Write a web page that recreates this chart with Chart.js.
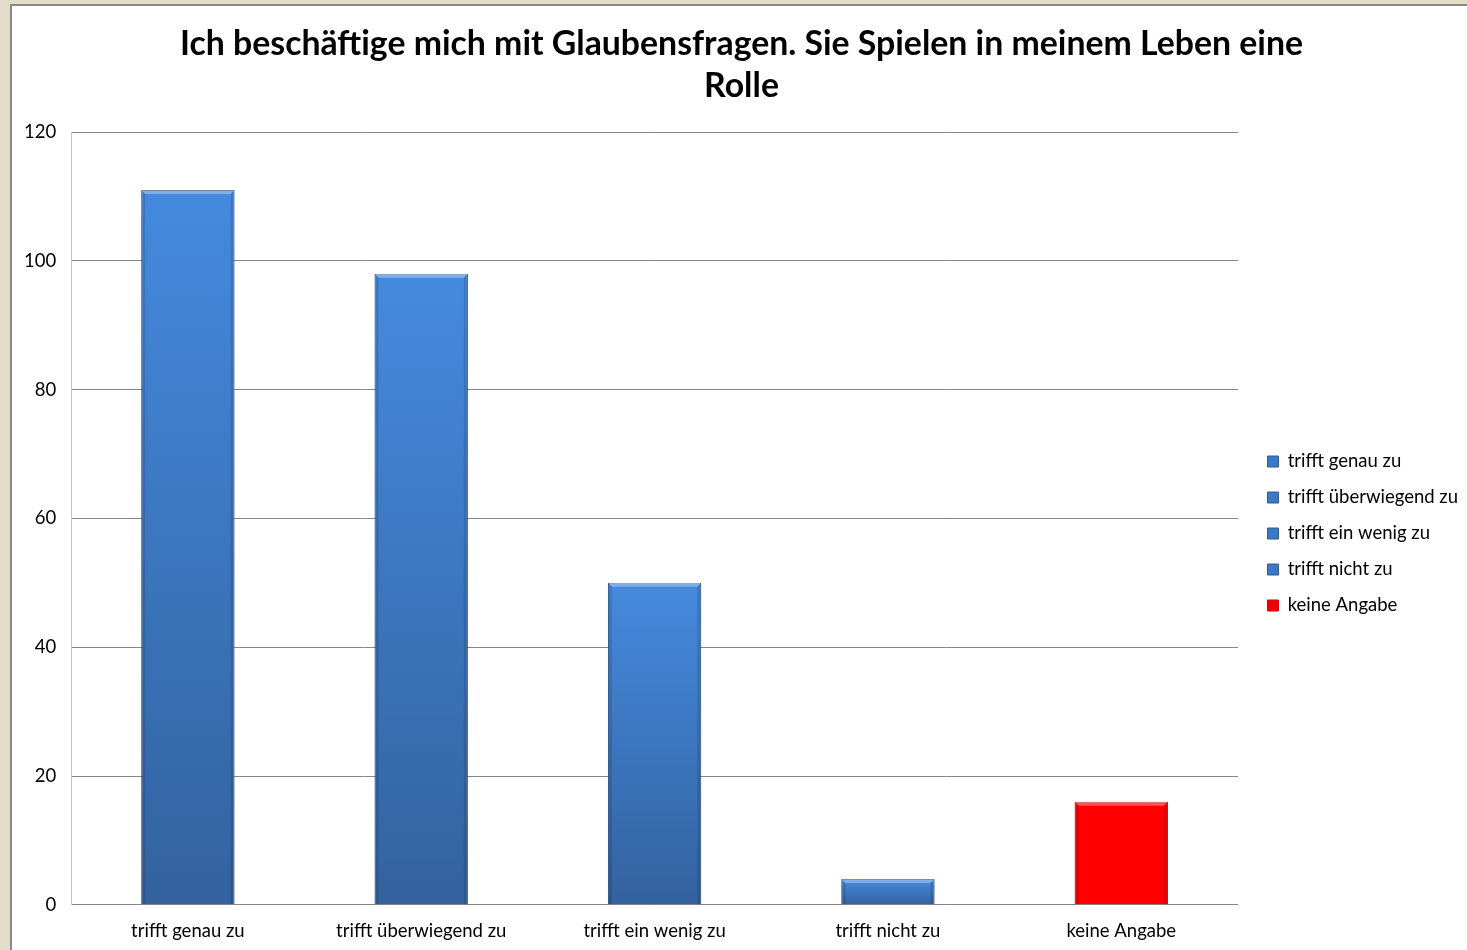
<!DOCTYPE html>
<html>
<head>
<meta charset="utf-8">
<script src="https://cdn.jsdelivr.net/npm/chart.js@4.4.1/dist/chart.umd.min.js"></script>
<style>
  html, body { margin: 0; padding: 0; width: 1467px; height: 950px; overflow: hidden; background: #e2dcc8; }
  #panel { position: absolute; left: 10px; top: 4px; width: 1480px; height: 970px; background: #fff;
           border-left: 2px solid #8a8a8a; border-top: 2px solid #8a8a8a; }
  #wrap { position: absolute; left: -3px; top: 0; width: 1458px; height: 943px; }
</style>
</head>
<body>
<div id="panel"><div id="wrap"><canvas id="chart"></canvas></div></div>
<script>
const titleLines = ['Ich beschäftige mich mit Glaubensfragen. Sie Spielen in meinem Leben eine', 'Rolle'];
const categories = ['trifft genau zu', 'trifft überwiegend zu', 'trifft ein wenig zu', 'trifft nicht zu', 'keine Angabe'];
const counts = [111, 98, 50, 4, 16];
const barKinds = ['blue', 'blue', 'blue', 'blue', 'red'];
const yMin = 0, yMax = 120, yStep = 20;

const FONT = 'Lato, "Open Sans", sans-serif';

// colours per bar kind: top of gradient, bottom of gradient, edge
const palette = {
  blue: { top: '#458ade', bottom: '#33629f', edge: '#2f5a92', legend: '#3d78c4' },
  red:  { top: '#ff0000', bottom: '#ff0000', edge: '#d40000', legend: '#f00000' }
};

function barFill(ctx) {
  const chart = ctx.chart;
  const p = palette[barKinds[ctx.dataIndex]];
  const y = chart.scales.y;
  if (!chart.chartArea || !y) return p.top;
  const top = y.getPixelForValue(ctx.raw);
  const bottom = y.getPixelForValue(0);
  const g = chart.ctx.createLinearGradient(0, top, 0, bottom);
  g.addColorStop(0, p.top);
  g.addColorStop(1, p.bottom);
  return g;
}

// light top bevel and darker sides, like the office 3D bar style
const bevelPlugin = {
  id: 'bevel',
  afterDatasetsDraw(chart) {
    const c = chart.ctx;
    chart.getDatasetMeta(0).data.forEach((bar, i) => {
      const { x, y, base, width } = bar.getProps(['x', 'y', 'base', 'width'], true);
      const l = x - width / 2, r = x + width / 2, b = 4;
      c.save();
      c.fillStyle = 'rgba(255,255,255,0.32)';
      c.beginPath();
      c.moveTo(l, y); c.lineTo(r, y); c.lineTo(r - b, y + b); c.lineTo(l + b, y + b); c.closePath();
      c.fill();
      c.fillStyle = 'rgba(0,0,0,0.12)';
      c.beginPath();
      c.moveTo(l, y); c.lineTo(l + b, y + b); c.lineTo(l + b, base); c.lineTo(l, base); c.closePath();
      c.fill();
      c.beginPath();
      c.moveTo(r, y); c.lineTo(r - b, y + b); c.lineTo(r - b, base); c.lineTo(r, base); c.closePath();
      c.fill();
      c.restore();
    });
  }
};

// nudge title and legend sideways after layout (the original leaves a wider gap before the legend)
const nudgePlugin = {
  id: 'nudge',
  afterLayout(chart) {
    if (chart.legend) { chart.legend.left += 12; chart.legend.right += 12; }
    if (chart.titleBlock) { chart.titleBlock.left += 9; chart.titleBlock.right += 9; }
  }
};

new Chart(document.getElementById('chart'), {
  type: 'bar',
  data: {
    labels: categories,
    datasets: [{
      data: counts,
      backgroundColor: barFill,
      borderColor: ctx => palette[barKinds[ctx.dataIndex]].edge,
      borderWidth: 1,
      borderSkipped: 'bottom',
      categoryPercentage: 1,
      barPercentage: 0.4
    }]
  },
  options: {
    responsive: true,
    maintainAspectRatio: false,
    animation: false,
    layout: { padding: { left: 0, right: 11, top: 0, bottom: 0 } },
    plugins: {
      title: {
        display: true,
        text: titleLines,
        color: '#000',
        font: { family: FONT, size: 33.8, weight: 'bold', lineHeight: 1.245 },
        padding: { top: 17, bottom: 25 }
      },
      legend: {
        position: 'right',
        onClick: null,
        // empty legend title only pushes the items down to where they sit in the original
        title: { display: true, text: '', font: { size: 10 }, padding: { top: 0, bottom: 100 } },
        labels: {
          color: '#000',
          font: { family: FONT, size: 18.5 },
          boxWidth: 11,
          boxHeight: 11,
          padding: 17.5,
          generateLabels: () => categories.map((c, i) => ({
            text: c,
            fillStyle: palette[barKinds[i]].legend,
            strokeStyle: palette[barKinds[i]].edge,
            lineWidth: 1,
            hidden: false,
            index: i,
            fontColor: '#000'
          }))
        }
      },
      tooltip: { enabled: false }
    },
    scales: {
      x: {
        grid: { display: false },
        border: { color: '#868686' },
        ticks: { color: '#000', font: { family: FONT, size: 18.5 }, padding: 7, maxRotation: 0 }
      },
      y: {
        min: yMin,
        max: yMax,
        ticks: { stepSize: yStep, color: '#000', font: { family: FONT, size: 18.5 }, padding: 15 },
        grid: { color: '#868686', drawTicks: false },
        border: { color: '#c4c4c4' }
      }
    }
  },
  plugins: [bevelPlugin, nudgePlugin]
});
</script>
</body>
</html>
